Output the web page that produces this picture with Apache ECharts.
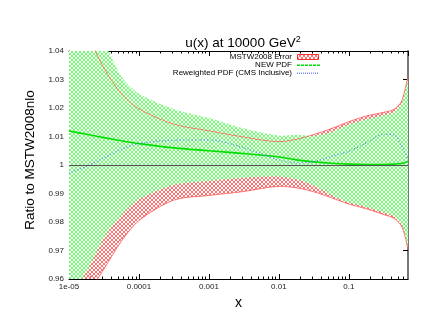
<!DOCTYPE html>
<html>
<head>
<meta charset="utf-8">
<script src="https://cdn.jsdelivr.net/npm/echarts@6/dist/echarts.min.js"></script>
<style>
html, body { margin: 0; padding: 0; background: #fff; }
#chart { width: 434px; height: 335px; }
</style>
</head>
<body>
<div id="chart"></div>
<script>
// x grid (log scale)
var xs = [1e-5, 1.78e-5, 3.16e-5, 5.62e-5, 1e-4, 3.16e-4, 1e-3, 3.16e-3, 1e-2, 1.78e-2,
  3.16e-2, 5.62e-2, 0.1, 0.178, 0.316, 0.447, 0.562, 0.631, 0.7]

// MSTW2008 error band
var mstwUp = [1.056, 1.046, 1.034, 1.025, 1.0197, 1.0143, 1.012, 1.0098, 1.0082, 1.009,
  1.0107, 1.0128, 1.0152, 1.0172, 1.0185, 1.0196, 1.0222, 1.0263, 1.031]
var mstwLow = [0.944, 0.954, 0.9635, 0.9733, 0.9805, 0.9877, 0.9893, 0.9907, 0.9925, 0.992,
  0.9906, 0.9885, 0.9863, 0.9846, 0.9826, 0.9812, 0.9787, 0.9752, 0.9705]

// NEW PDF band and central value
var newUp = [1.058, 1.051, 1.043, 1.031, 1.025, 1.0196, 1.0165, 1.0128, 1.0103, 1.0106,
  1.0102, 1.0115, 1.0142, 1.016, 1.0175, 1.0186, 1.0212, 1.0255, 1.030]
var newLow = [0.955, 0.9625, 0.9745, 0.9825, 0.988, 0.9931, 0.9944, 0.9955, 0.996, 0.995,
  0.9928, 0.9895, 0.9868, 0.9853, 0.9833, 0.9819, 0.9794, 0.976, 0.9712]
var newC = [1.0119, 1.0108, 1.0096, 1.0085, 1.0075, 1.006, 1.005, 1.004, 1.0028, 1.0018,
  1.0011, 1.0006, 1.0003, 1.0002, 1.0002, 1.0003, 1.0005, 1.0008, 1.0012]

// Reweighted PDF (CMS inclusive)
var rewC = [0.9972, 0.9995, 1.0025, 1.0055, 1.0075, 1.0087, 1.0088, 1.006, 1.0018, 1.0007,
  1.0012, 1.003, 1.0048, 1.0078, 1.0108, 1.0105, 1.0068, 1.0045, 1.0022]

var xTickLabels = ['1e-05', '0.0001', '0.001', '0.01', '0.1']
var yTickLabels = ['0.96', '0.97', '0.98', '0.99', '1', '1.01', '1.02', '1.03', '1.04']
var legendNames = ['MSTW2008 Error', 'NEW PDF', 'Reweighted PDF (CMS Inclusive)']

var FONT = 'Liberation Sans'
var RED = '#ff5a5a'
var GREEN = '#00dd00'
var BLUE = '#5a6cff'

function hatch(color, bg) {
  var c = document.createElement('canvas')
  c.width = 4
  c.height = 4
  var g = c.getContext('2d')
  if (bg) {
    g.fillStyle = bg
    g.fillRect(0, 0, 4, 4)
  }
  g.fillStyle = color
  for (var i = 0; i < 4; i++) {
    g.fillRect(i, i, 1, 1)
    g.fillRect(3 - i, i, 1, 1)
  }
  return c
}
var redFill = { image: hatch('#ff7070'), repeat: 'repeat' }
var greenFill = { image: hatch('#70ff70', '#ffffff'), repeat: 'repeat' }

function pts(ys) {
  return xs.map(function (x, i) { return [x, ys[i]] })
}

// filled band between low and up, drawn as one polygon through the axes
function band(name, up, low, fill) {
  return {
    name: name,
    type: 'custom',
    clip: true,
    silent: true,
    data: xs.map(function (x, i) { return [x, low[i], up[i]] }),
    encode: { x: 0, y: [1, 2] },
    renderItem: function (params, api) {
      if (params.dataIndex !== 0) return null
      var top = [], bottom = []
      for (var i = 0; i < xs.length; i++) {
        top.push(api.coord([xs[i], up[i]]))
        bottom.unshift(api.coord([xs[i], low[i]]))
      }
      return {
        type: 'polygon',
        shape: { points: top.concat(bottom), smooth: 0.25 },
        style: { fill: fill, stroke: null }
      }
    }
  }
}

// gnuplot-like minor ticks at 2..9 of each decade
var minorX = []
for (var e = -5; e <= -1; e++) {
  for (var m = 2; m <= 9; m++) {
    var v = m * Math.pow(10, e)
    if (v < 0.7) minorX.push(v)
  }
}

function xLabel(v) {
  var l = Math.log10(v)
  if (Math.abs(l - Math.round(l)) > 1e-6) return ''
  return xTickLabels[Math.round(l) + 5] || ''
}

var baseX = { type: 'log', logBase: 10, min: 1e-5, max: 0.7, splitLine: { show: false } }
function xAx(extra) { return Object.assign({}, baseX, extra) }

// key box in the upper right, gnuplot style: text on the left, sample on the right
var keyFont = '8px "Liberation Sans"'
var keyRows = [57, 65, 73]
var keyGraphic = []
legendNames.forEach(function (n, i) {
  keyGraphic.push({
    type: 'text', x: 292, y: keyRows[i], silent: true,
    style: { text: n, font: keyFont, fill: '#000', align: 'right', verticalAlign: 'middle' }
  })
})
keyGraphic.push({
  type: 'rect', silent: true,
  shape: { x: 297.5, y: keyRows[0] - 2.5, width: 21, height: 5 },
  style: { fill: redFill, stroke: '#ff3030', lineWidth: 1 }
})
// dashed / dotted samples made of small filled rects
for (var d = 297; d < 319; d += 4) {
  keyGraphic.push({
    type: 'rect', silent: true,
    shape: { x: d, y: keyRows[1] - 0.5, width: 3, height: 1.5 },
    style: { fill: GREEN }
  })
}
for (var d2 = 297; d2 < 319; d2 += 2) {
  keyGraphic.push({
    type: 'rect', silent: true,
    shape: { x: d2, y: keyRows[2] - 0.5, width: 1, height: 1.5 },
    style: { fill: '#7a8cff' }
  })
}

var myChart = echarts.init(document.getElementById('chart'))

myChart.setOption({
  animation: false,
  textStyle: { fontFamily: FONT },
  title: {
    text: '{a|u(x) at 10000 GeV}{s|2}',
    left: 238,
    textAlign: 'center',
    top: 30,
    textStyle: {
      fontWeight: 'normal',
      rich: {
        a: { fontSize: 13.5, fontFamily: FONT, fontWeight: 'normal', color: '#000', lineHeight: 16 },
        s: { fontSize: 9, fontFamily: FONT, fontWeight: 'normal', color: '#000', verticalAlign: 'top', lineHeight: 9 }
      }
    }
  },
  graphic: keyGraphic,
  grid: { left: 69, right: 26, top: 51, bottom: 56 },
  xAxis: [
    xAx({
      position: 'bottom',
      name: 'x',
      nameLocation: 'middle',
      nameGap: 6,
      nameTextStyle: { fontSize: 14, color: '#000', fontFamily: FONT },
      axisLine: { lineStyle: { color: '#000', width: 1 } },
      axisTick: { inside: true, length: 5, lineStyle: { color: '#000' } },
      axisLabel: { formatter: xLabel, fontSize: 8, color: '#222', margin: 4, showMaxLabel: false }
    }),
    xAx({
      position: 'top',
      axisLine: { lineStyle: { color: '#000', width: 1 } },
      axisTick: { inside: true, length: 5, lineStyle: { color: '#000' } },
      axisLabel: { show: false }
    }),
    xAx({
      position: 'top', // flips to bottom
      axisLine: { show: false },
      axisTick: { inside: true, length: 2.5, customValues: minorX, lineStyle: { color: '#000' } },
      axisLabel: { show: false }
    }),
    xAx({
      position: 'bottom', // flips to top
      axisLine: { show: false },
      axisTick: { inside: true, length: 2.5, customValues: minorX, lineStyle: { color: '#000' } },
      axisLabel: { show: false }
    })
  ],
  yAxis: [
    {
      type: 'value',
      position: 'left',
      min: 0.96,
      max: 1.04,
      interval: 0.01,
      name: 'Ratio to MSTW2008nlo',
      nameLocation: 'middle',
      nameRotate: 90,
      nameGap: 25,
      nameTextStyle: { fontSize: 13.5, color: '#000', fontFamily: FONT, padding: [0, 0, 0, 10] },
      splitLine: { show: false },
      axisLine: { show: true, lineStyle: { color: '#000', width: 1 } },
      axisTick: { show: true, inside: true, length: 5, lineStyle: { color: '#000' } },
      axisLabel: {
        fontSize: 8, color: '#222', margin: 5,
        formatter: function (v) { return yTickLabels[Math.round((v - 0.96) / 0.01)] }
      }
    },
    {
      type: 'value',
      position: 'right',
      min: 0.96,
      max: 1.04,
      interval: 0.01,
      splitLine: { show: false },
      axisLine: { show: true, lineStyle: { color: '#777', width: 2 } },
      axisTick: { show: true, inside: true, length: 5, lineStyle: { color: '#000' } },
      axisLabel: { show: false }
    }
  ],
  series: [
    band(legendNames[0], mstwUp, mstwLow, redFill),
    band('newBand', newUp, newLow, greenFill),
    {
      name: 'mstwUpLine', type: 'line', data: pts(mstwUp), symbol: 'none', smooth: 0.3,
      lineStyle: { color: RED, width: 0.8 }, silent: true
    },
    {
      name: 'mstwLowLine', type: 'line', data: pts(mstwLow), symbol: 'none', smooth: 0.3,
      lineStyle: { color: RED, width: 0.8 }, silent: true
    },
    {
      name: legendNames[1], type: 'line', data: pts(newC), symbol: 'none', smooth: 0.3,
      itemStyle: { color: GREEN },
      lineStyle: { color: GREEN, width: 1.6 },
      markLine: {
        silent: true,
        symbol: ['none', 'none'],
        label: { show: false },
        lineStyle: { color: '#555', width: 1, type: 'solid' },
        data: [{ yAxis: 1 }]
      }
    },
    {
      name: legendNames[2], type: 'line', data: pts(rewC), symbol: 'none', smooth: 0.3,
      itemStyle: { color: BLUE },
      lineStyle: { color: BLUE, width: 1.1, type: [1, 2] }
    }
  ]
})
</script>
</body>
</html>
